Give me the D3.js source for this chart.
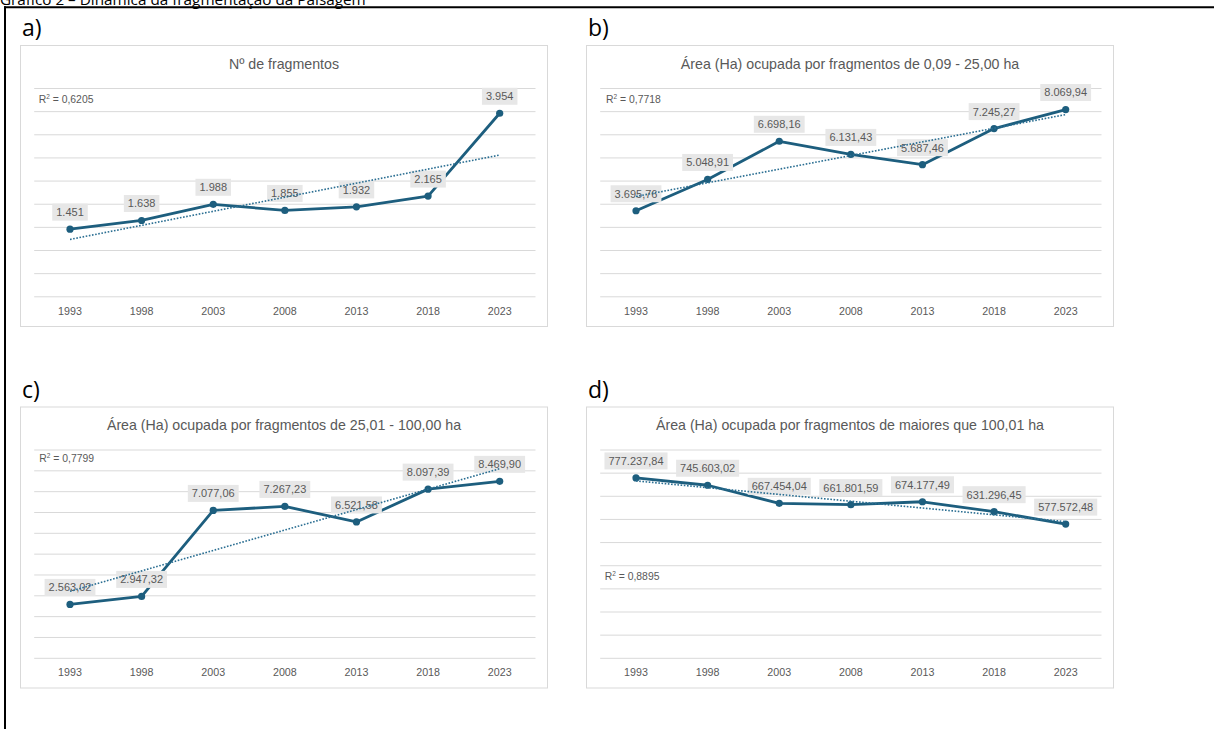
<!DOCTYPE html>
<html>
<head>
<meta charset="utf-8">
<script src="https://cdn.jsdelivr.net/npm/d3@7"></script>
<style>
  html, body { margin: 0; padding: 0; background: #fff; }
  svg { display: block; }
</style>
</head>
<body>
<svg id="fig" width="1214" height="729"></svg>
<script>
// ---- data ----
const years = ["1993", "1998", "2003", "2008", "2013", "2018", "2023"];

const fragmentCount = [1451, 1638, 1988, 1855, 1932, 2165, 3954];
const areaSmall  = [3695.76, 5048.91, 6698.16, 6131.43, 5687.46, 7245.27, 8069.94];
const areaMedium = [2563.02, 2947.32, 7077.06, 7267.23, 6521.58, 8097.39, 8469.90];
const areaLarge  = [777237.84, 745603.02, 667454.04, 661801.59, 674177.49, 631296.45, 577572.48];

const panelLetters = ["a)", "b)", "c)", "d)"];
const panelTitles = [
  "Nº de fragmentos",
  "Área (Ha) ocupada por fragmentos de 0,09 - 25,00 ha",
  "Área (Ha) ocupada por fragmentos de 25,01 - 100,00 ha",
  "Área (Ha) ocupada por fragmentos de maiores que 100,01 ha"
];
// value axis extent and gridline step for each panel
const axisMax  = [4500, 9000, 10000, 900000];
const axisStep = [500, 1000, 1000, 100000];
const decimals = [0, 2, 2, 2];

const caption = "Gráfico 2 – Dinâmica da fragmentação da Paisagem";

// ---- layout ----
const panelBoxes = [
  { x: 20.5,  y: 45.5 },
  { x: 586.5, y: 45.5 },
  { x: 20.5,  y: 407 },
  { x: 586.5, y: 407 }
];
const boxW = 527, boxH = 281;
const plot = { left: 13.7, right: 515, top: 42.5, bottom: 250.8 };
// R² label anchor inside each box (left, baseline)
const r2Anchor = [
  { x: 18.2, y: 57.2 },
  { x: 19.5, y: 57.8 },
  { x: 18.8, y: 54.7 },
  { x: 18.2, y: 173 }
];

const seriesColor = "#1d5e7e";
const trendColor = "#2a6e92";
const textGray = "#595959";
const gridGray = "#d9d9d9";
const labelFill = "#e7e7e7";
const chartFont = "'Liberation Sans', Arial, sans-serif";

const ptBR = d3.formatLocale({ decimal: ",", thousands: ".", grouping: [3], currency: ["R$ ", ""] });

const svg = d3.select("#fig");
svg.append("rect").attr("width", 1214).attr("height", 729).attr("fill", "#fff");

// caption (runs past the top of the page) and frame
svg.append("text")
  .attr("x", 0).attr("y", 4.5)
  .attr("font-family", "'Open Sans', sans-serif")
  .attr("font-size", 15.3)
  .attr("fill", "#000")
  .text(caption);

svg.append("line").attr("x1", 4).attr("x2", 1214).attr("y1", 7.2).attr("y2", 7.2)
  .attr("stroke", "#000").attr("stroke-width", 2);
svg.append("line").attr("x1", 5).attr("x2", 5).attr("y1", 6.2).attr("y2", 729)
  .attr("stroke", "#000").attr("stroke-width", 2);

// least-squares line over x = 1..n
function linearFit(values) {
  const xs = values.map((_, i) => i + 1);
  const mx = d3.mean(xs), my = d3.mean(values);
  let sxy = 0, sxx = 0, syy = 0;
  values.forEach((v, i) => {
    sxy += (xs[i] - mx) * (v - my);
    sxx += (xs[i] - mx) ** 2;
    syy += (v - my) ** 2;
  });
  const slope = sxy / sxx;
  const intercept = my - slope * mx;
  const r2 = (sxy * sxy) / (sxx * syy);
  return { at: x => intercept + slope * x, r2 };
}

const allSeries = [fragmentCount, areaSmall, areaMedium, areaLarge];

allSeries.forEach((values, p) => {
  const box = panelBoxes[p];

  // panel letter
  svg.append("text")
    .attr("x", box.x + 1.5)
    .attr("y", box.y - 9.5)
    .attr("font-family", "'Open Sans', sans-serif")
    .attr("font-size", 23)
    .attr("fill", "#000")
    .text(panelLetters[p]);

  const g = svg.append("g").attr("transform", `translate(${box.x},${box.y})`);

  g.append("rect")
    .attr("width", boxW).attr("height", boxH)
    .attr("fill", "#fff").attr("stroke", gridGray).attr("stroke-width", 1);

  g.append("text")
    .attr("x", boxW / 2).attr("y", 23)
    .attr("text-anchor", "middle")
    .attr("font-family", chartFont)
    .attr("font-size", 14.2)
    .attr("fill", textGray)
    .text(panelTitles[p]);

  const x = d3.scaleBand().domain(years).range([plot.left, plot.right]);
  const y = d3.scaleLinear().domain([0, axisMax[p]]).range([plot.bottom, plot.top]);
  const cx = i => x(years[i]) + x.bandwidth() / 2;

  // horizontal gridlines
  const gridTicks = d3.range(0, axisMax[p] + axisStep[p] / 2, axisStep[p]);
  const grid = g.append("g")
    .attr("transform", `translate(${plot.left},0)`)
    .call(d3.axisLeft(y).tickValues(gridTicks).tickSize(-(plot.right - plot.left)).tickFormat(""));
  grid.select(".domain").remove();
  grid.selectAll(".tick line").attr("stroke", gridGray).attr("stroke-width", 1);

  // category axis
  const xa = g.append("g")
    .attr("transform", `translate(0,${plot.bottom})`)
    .call(d3.axisBottom(x).tickSize(0).tickPadding(0));
  xa.select(".domain").remove();
  xa.selectAll("text")
    .attr("y", 269.5 - plot.bottom)
    .attr("dy", null)
    .attr("font-family", chartFont)
    .attr("font-size", 10.7)
    .attr("fill", textGray);

  // series line and markers
  const line = d3.line().x((d, i) => cx(i)).y(d => y(d));
  g.append("path")
    .datum(values)
    .attr("d", line)
    .attr("fill", "none")
    .attr("stroke", seriesColor)
    .attr("stroke-width", 2.8)
    .attr("stroke-linejoin", "round");

  g.selectAll("circle.pt")
    .data(values)
    .join("circle")
    .attr("class", "pt")
    .attr("cx", (d, i) => cx(i))
    .attr("cy", d => y(d))
    .attr("r", 3.6)
    .attr("fill", seriesColor);

  // value labels
  const fmt = ptBR.format(decimals[p] ? ",.2f" : ",.0f");
  const lab = g.selectAll("g.lab")
    .data(values)
    .join("g")
    .attr("class", "lab")
    .attr("transform", (d, i) => `translate(${cx(i)},${y(d) - 17})`);
  lab.append("text")
    .attr("text-anchor", "middle")
    .attr("dy", "0.36em")
    .attr("font-family", chartFont)
    .attr("font-size", 11)
    .attr("fill", textGray)
    .text(d => fmt(d))
    .each(function () {
      const bb = this.getBBox();
      d3.select(this.parentNode).insert("rect", "text")
        .attr("x", bb.x - 4).attr("y", -8.5)
        .attr("width", bb.width + 8).attr("height", 17)
        .attr("fill", labelFill);
    });

  // linear trend line
  const fit = linearFit(values);
  g.append("line")
    .attr("x1", cx(0)).attr("y1", y(fit.at(1)))
    .attr("x2", cx(values.length - 1)).attr("y2", y(fit.at(values.length)))
    .attr("stroke", trendColor)
    .attr("stroke-width", 1.6)
    .attr("stroke-dasharray", "1.6,1.6");

  // R² annotation
  const r2 = g.append("text")
    .attr("x", r2Anchor[p].x).attr("y", r2Anchor[p].y)
    .attr("font-family", chartFont)
    .attr("font-size", 10.4)
    .attr("fill", textGray);
  r2.append("tspan").text("R");
  r2.append("tspan").attr("font-size", 6.5).attr("dy", -4).text("2");
  r2.append("tspan").attr("dy", 4).text(" = " + ptBR.format(".4f")(fit.r2));
});
</script>
</body>
</html>
